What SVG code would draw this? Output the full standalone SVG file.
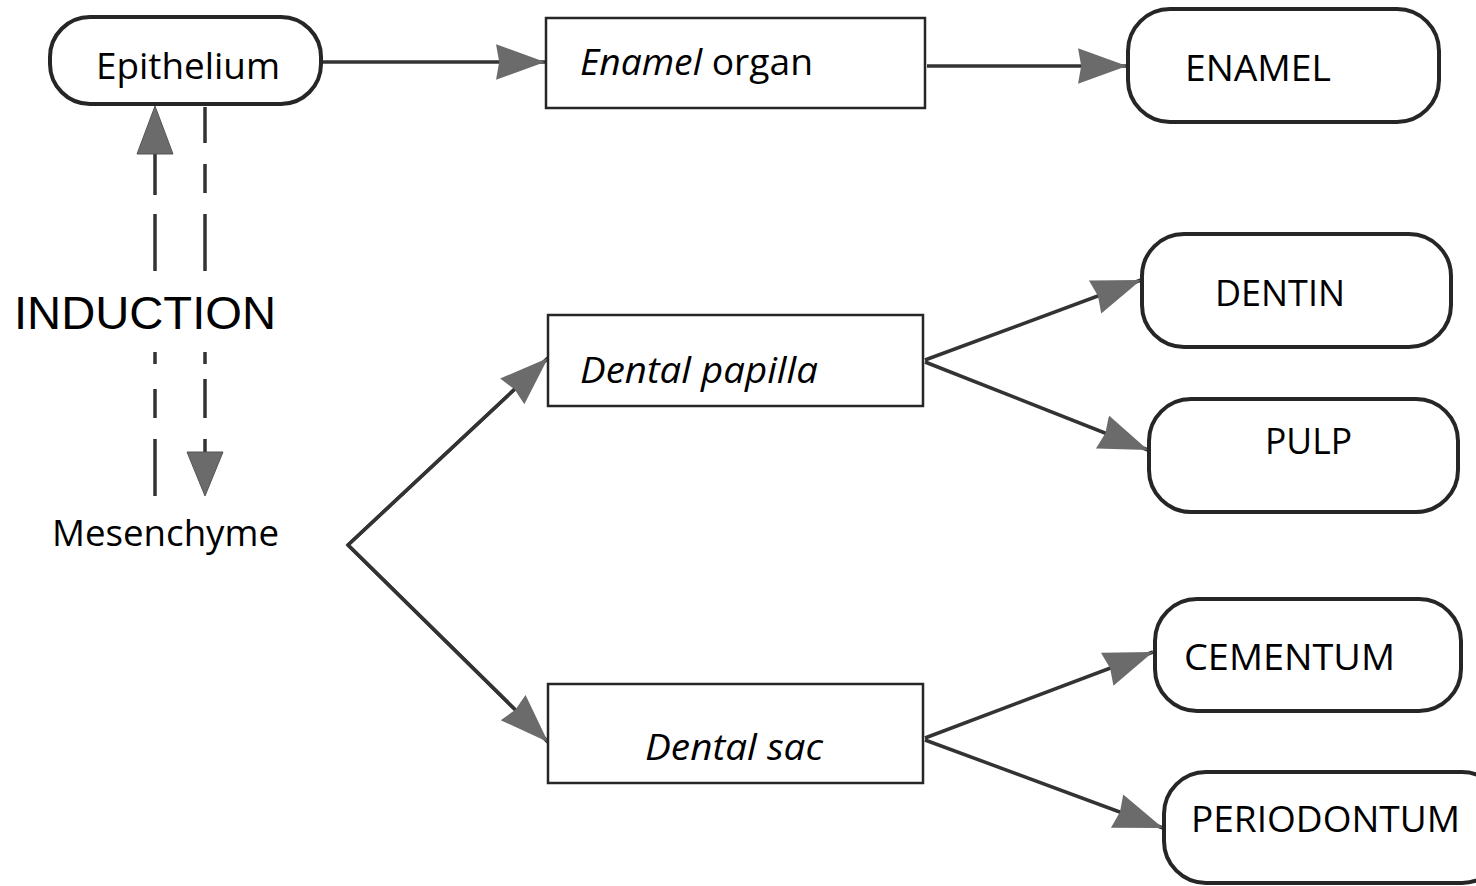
<svg xmlns="http://www.w3.org/2000/svg" width="1476" height="886" viewBox="0 0 1476 886">
  <style>
    .rbox { fill: #fff; stroke: #262626; stroke-width: 4; }
    .box { fill: #fff; stroke: #262626; stroke-width: 2.5; }
    .lbl { font-family: "Open Sans", "Noto Sans", sans-serif; font-size: 36px; fill: #000; }
    .ind { font-family: "Liberation Sans", Arial, sans-serif; font-size: 47px; fill: #000; }
    .conn { stroke: #333; stroke-width: 3.5; fill: none; }
    .head { fill: #6b6b6b; stroke: #555; stroke-width: 1; }
  </style>
  <defs>
    <marker id="arr" markerUnits="userSpaceOnUse" markerWidth="50" markerHeight="40" viewBox="0 0 48 36" refX="47" refY="18" orient="auto">
      <path d="M0,1 L47,18 L0,35 L3,18 z" fill="#6b6b6b"/>
    </marker>
  </defs>
  <rect width="1476" height="886" fill="#fff"/>

  <g id="connectors">
    <line class="conn" x1="322" y1="62" x2="545" y2="62" marker-end="url(#arr)"/>
    <line class="conn" x1="927" y1="66" x2="1127" y2="66" marker-end="url(#arr)"/>
    <polyline class="conn" points="548,358 348,545 548,742" stroke-linejoin="miter"/>
    <line class="conn" x1="348" y1="545" x2="548" y2="358" marker-end="url(#arr)"/>
    <line class="conn" x1="348" y1="545" x2="548" y2="742" marker-end="url(#arr)"/>
    <line class="conn" x1="925" y1="360" x2="1141" y2="280" marker-end="url(#arr)"/>
    <line class="conn" x1="925" y1="362" x2="1148" y2="450" marker-end="url(#arr)"/>
    <line class="conn" x1="925" y1="738" x2="1153" y2="652" marker-end="url(#arr)"/>
    <line class="conn" x1="925" y1="740" x2="1163" y2="828" marker-end="url(#arr)"/>
    <!-- induction dashed lines -->
    <path class="conn" d="M155,150 L155,195 M155,214 L155,271 M155,352 L155,364 M155,389 L155,418 M155,439 L155,496"/>
    <polygon class="head" points="155,106 173,154 137,154"/>
    <path class="conn" d="M205,107 L205,143 M205,164 L205,193 M205,214 L205,271 M205,352 L205,364 M205,379 L205,418 M205,439 L205,456"/>
    <polygon class="head" points="187,452 223,452 205,496"/>
  </g>

  <g id="epithelium">
    <rect class="rbox" x="50" y="17" width="271" height="87" rx="40"/>
    <text class="lbl" x="96" y="79" textLength="184" lengthAdjust="spacingAndGlyphs">Epithelium</text>
  </g>
  <g id="enamel-organ">
    <rect class="box" x="546" y="18" width="379" height="90"/>
    <text class="lbl" x="580" y="75" textLength="233" lengthAdjust="spacingAndGlyphs"><tspan font-style="italic">Enamel</tspan> organ</text>
  </g>
  <g id="enamel">
    <rect class="rbox" x="1128" y="9" width="311" height="113" rx="42"/>
    <text class="lbl" x="1185" y="81" textLength="146" lengthAdjust="spacingAndGlyphs">ENAMEL</text>
  </g>
  <g id="induction">
    <text class="ind" x="14" y="329" textLength="262" lengthAdjust="spacingAndGlyphs">INDUCTION</text>
  </g>
  <g id="mesenchyme">
    <text class="lbl" x="52" y="546" textLength="227" lengthAdjust="spacingAndGlyphs">Mesenchyme</text>
  </g>
  <g id="dental-papilla">
    <rect class="box" x="548" y="315" width="375" height="91"/>
    <text class="lbl" x="580" y="383" font-style="italic" textLength="238" lengthAdjust="spacingAndGlyphs">Dental papilla</text>
  </g>
  <g id="dental-sac">
    <rect class="box" x="548" y="684" width="375" height="99"/>
    <text class="lbl" x="645" y="760" font-style="italic" textLength="178" lengthAdjust="spacingAndGlyphs">Dental sac</text>
  </g>
  <g id="dentin">
    <rect class="rbox" x="1142" y="234" width="309" height="113" rx="42"/>
    <text class="lbl" x="1215" y="306" textLength="130" lengthAdjust="spacingAndGlyphs">DENTIN</text>
  </g>
  <g id="pulp">
    <rect class="rbox" x="1149" y="399" width="309" height="113" rx="42"/>
    <text class="lbl" x="1265" y="454" textLength="87" lengthAdjust="spacingAndGlyphs">PULP</text>
  </g>
  <g id="cementum">
    <rect class="rbox" x="1155" y="599" width="306" height="112" rx="42"/>
    <text class="lbl" x="1184" y="670" textLength="211" lengthAdjust="spacingAndGlyphs">CEMENTUM</text>
  </g>
  <g id="periodontum">
    <rect class="rbox" x="1164" y="772" width="340" height="111" rx="42"/>
    <text class="lbl" x="1191" y="832" textLength="269" lengthAdjust="spacingAndGlyphs">PERIODONTUM</text>
  </g>
</svg>
